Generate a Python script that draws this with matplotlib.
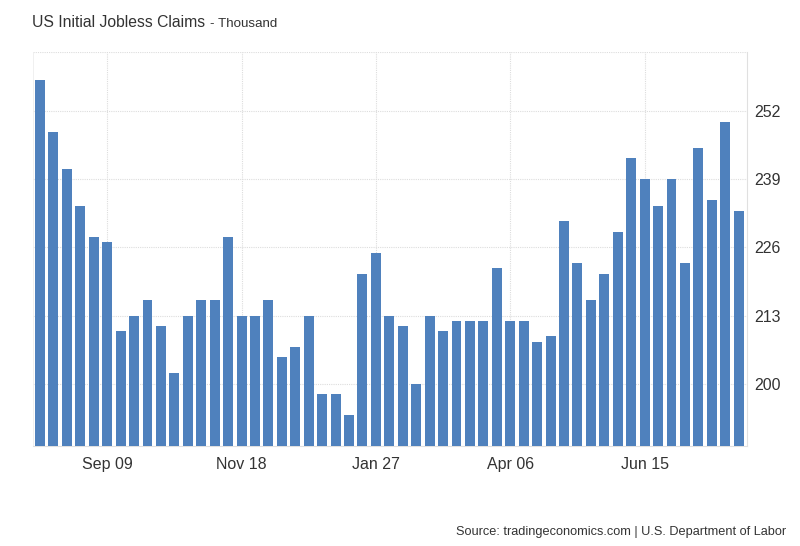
import matplotlib
matplotlib.use("Agg")
import matplotlib.pyplot as plt
import numpy as np

plt.rcParams['font.family'] = ['Liberation Sans', 'DejaVu Sans']

values = [258, 248, 241, 234, 228, 227, 210, 213, 216, 211,
          202, 213, 216, 216, 228, 213, 213, 216, 205, 207,
          213, 198, 198, 194, 221, 225, 213, 211, 200, 213,
          210, 212, 212, 212, 222, 212, 212, 208, 209, 231,
          223, 216, 221, 229, 243, 239, 234, 239, 223, 245,
          235, 250, 233]
xtick_pos = [5, 15, 25, 35, 45]
xtick_labels = ["Sep 09", "Nov 18", "Jan 27", "Apr 06", "Jun 15"]
yticks = [200, 213, 226, 239, 252]

bar_color = "#4f81bd"
text_color = "#333333"
grid_color = "#dddddd"

fig = plt.figure(figsize=(8, 5.46), dpi=100)
ax = fig.add_axes([33/800, 1 - 446/546, (747-33)/800, (446-52)/546])

x = np.arange(len(values))
ymin = 188.1
ax.bar(x, np.array(values) - ymin, bottom=ymin, width=0.74, color=bar_color, zorder=3)

ax.set_xlim(-0.52, 52.62)
ax.set_ylim(ymin, 263.3)

ax.set_xticks(xtick_pos)
ax.set_xticklabels(xtick_labels, fontsize=11.5, color=text_color)
ax.set_yticks(yticks)
ax.set_yticklabels([str(v) for v in yticks], fontsize=11.5, color=text_color)
ax.yaxis.tick_right()
ax.tick_params(axis='both', length=0)
ax.tick_params(axis='x', pad=8)
ax.tick_params(axis='y', pad=5)

ax.grid(True, color=grid_color, linestyle=(0, (1, 1)), linewidth=0.8, zorder=0)
ax.axhline(263.3, color=grid_color, linestyle=(0, (1, 1)), linewidth=0.8, zorder=0)

for side in ['top', 'left']:
    ax.spines[side].set_visible(False)
ax.spines['right'].set_color('#e0e0e0')
ax.spines['bottom'].set_color('#e0e0e0')
ax.spines['left'].set_visible(True)
ax.spines['left'].set_color('#eeeeee')
ax.spines['left'].set_linewidth(0.6)

title = fig.text(32/800, 1 - 27/546, "US Initial Jobless Claims", fontsize=11.3,
                 color=text_color, ha='left', va='baseline')
fig.canvas.draw()
bb = title.get_window_extent()
fig.text((bb.x1 + 5) / 800, 1 - 27/546, "- Thousand", fontsize=9.6,
         color=text_color, ha='left', va='baseline')
fig.text(786/800, 1 - 535/546, "Source: tradingeconomics.com | U.S. Department of Labor",
         fontsize=9.2, color=text_color, ha='right', va='baseline')

fig.savefig("out.png", dpi=100)
